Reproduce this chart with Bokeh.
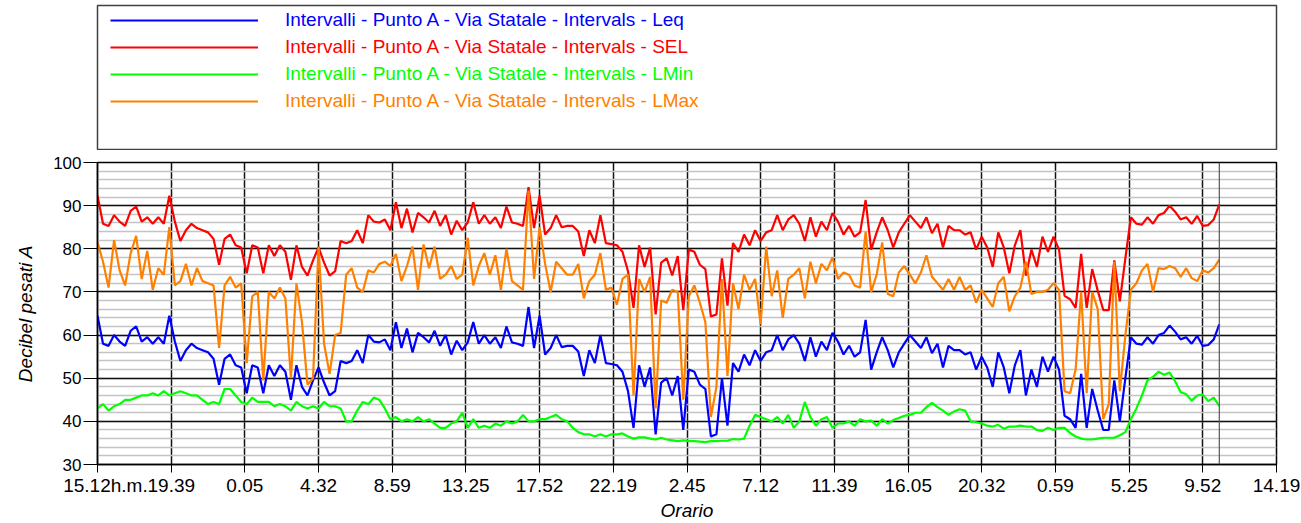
from bokeh.plotting import figure
from bokeh.layouts import column
from bokeh.models import (Range1d, FixedTicker, SingleIntervalTicker, Legend,
                          LegendItem, Label, Span)
from bokeh.embed import file_html
from bokeh.resources import INLINE

FONT = "Liberation Sans"

tick_labels = ["\u00a0\u00a0\u00a015.12h.m.", "19.39", "0.05", "4.32", "8.59", "13.25", "17.52",
               "22.19", "2.45", "7.12", "11.39", "16.05", "20.32", "0.59",
               "5.25", "9.52", "14.19"]
axis_span_min = 4267   # 15.12 -> 14.19 three days later, minutes
step_min = 20          # sampling step of the series, minutes

series_names = ["Intervalli - Punto A - Via Statale - Intervals - Leq",
                "Intervalli - Punto A - Via Statale - Intervals - SEL",
                "Intervalli - Punto A - Via Statale - Intervals - LMin",
                "Intervalli - Punto A - Via Statale - Intervals - LMax"]
series_colors = ["#0000ff", "#ff0000", "#00ff00", "#ff8000"]

leq = [
    64.5, 58, 57.5, 60, 58.5, 57.5, 61, 62, 58.5, 59.5, 58, 59.5, 58, 64.5, 58.5, 54, 56.5, 58, 57, 56.5,
    56, 54.5, 48.5, 54.5, 55.5, 53, 52.5, 46.5, 53, 52.5, 46.5, 53, 50.5, 53, 51.5,
    45, 53, 48, 46, 49.5, 52.5, 49, 46, 47, 54, 53.5, 54, 56.5, 53.5, 60, 58.5, 58.3, 59, 56.5, 63,
    57, 61.5, 56, 60.5, 59.5, 58.3, 61, 57.5, 60, 55.5, 58.7, 56.5, 58.3, 63,
    58, 60, 58, 59.5, 57, 62, 58.3, 58, 57.5, 66.5, 57, 64.5, 55.5, 57, 60, 57.2, 57.5, 57.5, 56.2, 50.5,
    56.5, 53.5, 60, 53.5, 53.3, 53, 51.5, 47, 38.5, 53, 48, 52.5, 37, 49,
    50, 46, 50.5, 38, 52, 51.5, 48.5, 47.5, 36.5, 37, 50, 39, 53.5, 51.5, 55.5, 53, 56.5, 54, 56, 56.5,
    60, 56.5, 59, 60, 58, 54, 59.5, 55, 58.5, 56.5, 60.5, 58.5, 55.5, 57.5,
    55, 56, 63.5, 52, 56, 59.5, 56.5, 52.5, 56, 58, 60, 58.5, 57, 59.5, 55.8, 58, 52.5, 57.5, 56.5, 56.5,
    55.5, 56, 52, 55, 52.5, 48, 56, 52.5, 46.5, 53, 56.5, 46, 52, 48,
    55, 51.5, 55, 52, 41.3, 40.5, 38.5, 51, 38.5, 47.5, 42.5, 38, 38, 49.5, 40, 50, 59.5, 58, 57.8, 59.5,
    58, 60, 60.5, 62.2, 60.8, 59, 59.5, 58, 59.8, 57.5, 57.7, 59, 62.5,
]

sel = [
    92.3, 85.8, 85.3, 87.8, 86.3, 85.3, 88.8, 89.8, 86.3, 87.3, 85.8, 87.3, 85.8, 92.3, 86.3, 81.8, 84.3, 85.8, 84.8, 84.3,
    83.8, 82.3, 76.3, 82.3, 83.3, 80.8, 80.3, 74.3, 80.8, 80.3, 74.3, 80.8, 78.3, 80.8, 79.3,
    72.8, 80.8, 75.8, 73.8, 77.3, 80.3, 76.8, 73.8, 74.8, 81.8, 81.3, 81.8, 84.3, 81.3, 87.8, 86.3, 86.1, 86.8, 84.3, 90.8,
    84.8, 89.3, 83.8, 88.3, 87.3, 86.1, 88.8, 85.3, 87.8, 83.3, 86.5, 84.3, 86.1, 90.8,
    85.8, 87.8, 85.8, 87.3, 84.8, 89.8, 86.1, 85.8, 85.3, 94.3, 84.8, 92.3, 83.3, 84.8, 87.8, 85.0, 85.3, 85.3, 84.0, 78.3,
    84.3, 81.3, 87.8, 81.3, 81.1, 80.8, 79.3, 74.8, 66.3, 80.8, 75.8, 80.3, 64.8, 76.8,
    77.8, 73.8, 78.3, 65.8, 79.8, 79.3, 76.3, 75.3, 64.3, 64.8, 77.8, 66.8, 81.3, 79.3, 83.3, 80.8, 84.3, 81.8, 83.8, 84.3,
    87.8, 84.3, 86.8, 87.8, 85.8, 81.8, 87.3, 82.8, 86.3, 84.3, 88.3, 86.3, 83.3, 85.3,
    82.8, 83.8, 91.3, 79.8, 83.8, 87.3, 84.3, 80.3, 83.8, 85.8, 87.8, 86.3, 84.8, 87.3, 83.6, 85.8, 80.3, 85.3, 84.3, 84.3,
    83.3, 83.8, 79.8, 82.8, 80.3, 75.8, 83.8, 80.3, 74.3, 80.8, 84.3, 73.8, 79.8, 75.8,
    82.8, 79.3, 82.8, 79.8, 69.1, 68.3, 66.3, 78.8, 66.3, 75.3, 70.3, 65.8, 65.8, 77.3, 67.8, 77.8, 87.3, 85.8, 85.6, 87.3,
    85.8, 87.8, 88.3, 90.0, 88.6, 86.8, 87.3, 85.8, 87.6, 85.3, 85.5, 86.8, 90.3,
]

lmin = [
    43, 44, 42.5, 43.5, 44, 45, 45, 45.5, 46, 46, 46.5, 46, 47, 46, 46.5, 47, 46.5, 46, 46, 45,
    44, 44.5, 44, 47.5, 47.5, 46, 44.5, 44, 45.5, 44.5, 44.5, 44.5, 43.5, 44, 43.5,
    42.5, 44.5, 43.5, 43, 43.5, 43, 44.5, 43.5, 43.5, 43, 40, 40, 42.5, 44.5, 44, 45.5, 45, 43, 40.5, 41,
    40, 40.5, 40, 41, 40, 40.5, 39.5, 38.5, 38.5, 39.5, 40, 42, 38.5, 40.5,
    38.5, 39, 38.5, 39.5, 39, 40, 39.5, 40, 41.5, 40, 40, 40.5, 40.5, 41, 41.5, 40.5, 40, 38.5, 37.5, 37,
    37, 36.5, 37, 36.5, 37, 37, 37.2, 36.5, 36, 36.3, 36.3, 36, 35.8, 36.2,
    35.8, 35.6, 35.4, 35.6, 35.4, 35.4, 35.3, 35.2, 35.4, 35.4, 35.5, 35.5, 35.9, 35.8, 36, 39, 41.5, 41, 40.5, 40,
    41, 39.5, 41.5, 38.5, 40, 44.5, 41, 39, 40.5, 41, 38.5, 39.5, 39.5, 40,
    39, 40.5, 40, 40.2, 39, 40.5, 39.5, 40.3, 40.8, 41.3, 41.5, 42, 42, 43.3, 44.3, 43.3, 42.5, 41.5, 42.3, 42.8,
    42.5, 40, 39.8, 39.5, 39, 38.8, 39.2, 38.3, 38.8, 38.8, 39, 38.8, 38.8, 38,
    37.8, 38.5, 38, 38.5, 38.5, 37.3, 36.5, 36, 35.8, 35.8, 36, 36.2, 36.2, 36.2, 36.8, 37.5, 40.5, 43, 46, 49.5,
    50.3, 51.5, 50.8, 51.3, 49.3, 46.8, 46.3, 44.8, 46, 46.2, 44.7, 45.5, 43.5,
]

lmax = [
    81.5, 77, 71, 82, 75, 71.5, 79, 83, 73, 79.5, 70.5, 75.5, 74, 85, 71.5, 72.5, 76.5, 71.5, 75.5, 72.5,
    72, 71.5, 57, 71.5, 73.5, 71, 72, 53.5, 69, 70, 49.5, 70, 68.5, 71, 68.5,
    50, 72, 63, 48.5, 50, 80.5, 58, 51, 60, 60.5, 74, 75.5, 71, 70, 75, 74.5, 76.5, 77, 76, 78.8,
    72.5, 76, 80.5, 70.5, 81, 75.5, 80.5, 73, 74, 76, 73, 74, 82.5, 71.5,
    76, 79, 74, 78.5, 70.5, 80, 72.5, 71.5, 70.5, 93.5, 73, 85, 76.5, 70, 77, 75.5, 74, 74, 76.5, 68.5,
    72.5, 74, 79, 70.5, 71, 67, 73, 74, 46, 73, 70, 73.5, 43, 68,
    67.5, 70.5, 70, 45, 69, 71.5, 67.5, 63, 41, 48, 73, 50.5, 72, 66, 74, 70.5, 73, 62.5, 80.5, 69,
    75, 64, 73, 74, 75.5, 68.5, 77, 72, 76.5, 75, 78, 73, 74.5, 74,
    71.5, 71, 84, 70, 74, 81.5, 69.5, 69, 74.5, 76, 74, 72, 74.5, 78.5, 73.5, 72, 70.5, 73, 70.5, 73.5,
    70.5, 71.5, 67.5, 70.5, 68.5, 66.5, 72, 73.5, 65.5, 69, 71, 77, 69.5, 70,
    70, 70.5, 72, 70.5, 47, 46.5, 52, 70, 46.5, 70, 66, 40.5, 44, 77, 47, 60, 70.5, 72, 75, 76.5,
    70, 75.5, 75.3, 76, 75.5, 73.5, 75.5, 73.2, 72.5, 75, 74.5, 75.5, 77.5,
]

times = [i * step_min for i in range(len(leq))]
tick_pos = [round(k * axis_span_min / 16) for k in range(len(tick_labels))]

W = 1300
LEFT, RIGHT = 97, 24
NAN = float("nan")

# ---------------- legend box (separate figure) ----------------
leg = figure(width=W, height=150, x_range=Range1d(0, 1), y_range=Range1d(0, 1),
             x_axis_type=None, y_axis_type=None, toolbar_location=None,
             output_backend="svg", min_border_left=LEFT, min_border_right=RIGHT,
             min_border_top=5, min_border_bottom=1)
leg.grid.visible = False
leg.outline_line_color = "#404040"
leg.outline_line_width = 1.5
leg_rows_y = [118, 91, 64, 37]
for name, col, yy in zip(series_names, series_colors, leg_rows_y):
    r = leg.line(x=[NAN], y=[NAN], line_color=col, line_width=2.2)
    lg = Legend(items=[LegendItem(label=name, renderers=[r])], location=(13, yy),
                label_text_color=col, label_text_font=FONT, label_text_font_size="19px",
                glyph_width=148, glyph_height=20, label_height=20, label_standoff=27,
                padding=0, margin=0, spacing=0, border_line_color=None,
                background_fill_alpha=0)
    leg.add_layout(lg, "center")

# ---------------- main chart ----------------
p = figure(width=W, height=373, x_range=Range1d(0, axis_span_min), y_range=Range1d(30, 100),
           toolbar_location=None, output_backend="svg",
           min_border_left=LEFT, min_border_right=RIGHT, min_border_top=12, min_border_bottom=59)
p.outline_line_color = "black"
p.outline_line_width = 1.5

for vals, col in zip([leq, sel, lmin, lmax], series_colors):
    p.line(x=times, y=vals, line_color=col, line_width=2.2)

p.add_layout(Span(location=times[-1], dimension="height", line_color="#555555", line_width=1.2))

# x axis
p.xaxis.ticker = FixedTicker(ticks=tick_pos)
p.xaxis.major_label_overrides = {tp: lab for tp, lab in zip(tick_pos, tick_labels)}
p.xaxis.axis_label = "Orario"
p.xgrid.ticker = FixedTicker(ticks=tick_pos)
p.xgrid.grid_line_color = "#111111"
p.xgrid.grid_line_width = 1.5

# y axis
yt = SingleIntervalTicker(interval=10, num_minor_ticks=5)
p.yaxis.ticker = yt
p.ygrid.ticker = yt
p.ygrid.grid_line_color = "#111111"
p.ygrid.grid_line_width = 1.5
p.ygrid.minor_grid_line_color = "#c4c4c4"
p.ygrid.minor_grid_line_width = 1.5
p.yaxis.axis_label = "Decibel pesati A"

for ax in (p.xaxis[0], p.yaxis[0]):
    ax.axis_line_color = "black"
    ax.axis_line_width = 1.5
    ax.major_tick_line_color = "black"
    ax.major_tick_in = 0
    ax.minor_tick_line_color = None
    ax.major_label_text_font = FONT
    ax.major_label_text_color = "black"
    ax.axis_label_text_font = FONT
    ax.axis_label_text_font_size = "19px"
    ax.axis_label_text_font_style = "italic"
    ax.axis_label_text_color = "black"
p.xaxis.major_tick_out = 8
p.yaxis.major_tick_out = 14
p.xaxis.major_label_text_font_size = "19px"
p.yaxis.major_label_text_font_size = "17px"
p.xaxis.major_label_standoff = 2
p.xaxis.axis_label_standoff = 1
p.yaxis.major_label_standoff = 2
p.yaxis.axis_label_standoff = 14

p.add_layout(Label(x=-65, y=95, text="dBA", text_align="center", text_baseline="middle",
                   text_font=FONT, text_font_size="17px", text_color="black"))

layout = column(leg, p, spacing=0)
open("out.html", "w").write(file_html(layout, INLINE))
